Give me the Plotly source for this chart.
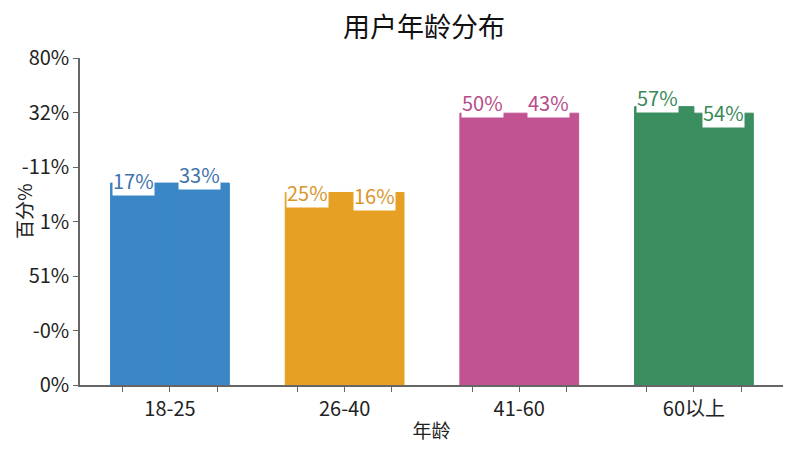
import plotly.graph_objects as go

# ---- data ----
categories = ["18-25", "26-40", "41-60", "60以上"]
left_values = [49.4, 47.1, 66.5, 68.1]
right_values = [49.4, 47.1, 66.5, 66.5]
left_labels = ["17%", "25%", "50%", "57%"]
right_labels = ["33%", "16%", "43%", "54%"]
y_tick_values = [0, 13.333, 26.667, 40, 53.333, 66.667, 80]
y_tick_text = ["0%", "-0%", "51%", "1%", "-11%", "32%", "80%"]

# ---- styles ----
bar_colors = ["#3a86c6", "#e6a023", "#c25392", "#3a8e60"]
text_colors = ["#3f74ad", "#d9962a", "#b64d88", "#3a8a5a"]
left_shift = [3, 0, 11, 9]
right_shift = [9, -3, 11, 1]
FONT = "Noto Sans CJK SC"
half = 0.34

xs = list(range(len(categories)))

fig = go.Figure()
fig.add_trace(go.Bar(
    x=[i - half / 2 for i in xs], y=left_values, width=half,
    marker=dict(color=bar_colors, line=dict(width=1, color=bar_colors)), showlegend=False,
    hoverinfo="skip"))
fig.add_trace(go.Bar(
    x=[i + half / 2 for i in xs], y=right_values, width=half,
    marker=dict(color=bar_colors, line=dict(width=1, color=bar_colors)), showlegend=False,
    hoverinfo="skip"))

for i in xs:
    fig.add_annotation(x=i - half, y=left_values[i], xref="x", yref="y",
                       text=left_labels[i], showarrow=False, xanchor="left",
                       yanchor="middle", xshift=1, yshift=left_shift[i],
                       bgcolor="white", borderpad=0,
                       font=dict(family=FONT, size=20, color=text_colors[i]))
    fig.add_annotation(x=i + half / 2, y=right_values[i], xref="x", yref="y",
                       text=right_labels[i], showarrow=False, xanchor="center",
                       yanchor="middle", yshift=right_shift[i],
                       bgcolor="white", borderpad=0,
                       font=dict(family=FONT, size=20, color=text_colors[i]))

# x ticks: center tick with label plus two side ticks per category
tickvals, ticktext = [], []
for i, c in enumerate(categories):
    tickvals += [i - 0.27, i, i + 0.27]
    ticktext += ["", c, ""]

fig.add_annotation(text="百分%", xref="paper", yref="paper", x=-0.081, y=0.532,
                   textangle=-90, showarrow=False, xanchor="center", yanchor="middle",
                   font=dict(family=FONT, size=19, color="#222"))

fig.update_layout(
    width=800, height=450,
    margin=dict(l=80, r=17, t=58, b=65, autoexpand=False),
    paper_bgcolor="white", plot_bgcolor="white",
    barmode="overlay",
    font=dict(family=FONT, color="#222"),
    title=dict(text="用户年龄分布", x=0.53, xanchor="center", y=0.938, yanchor="middle",
               font=dict(family=FONT, size=27, color="#111")),
    xaxis=dict(range=[-0.515, 3.51], tickvals=tickvals, ticktext=ticktext,
               automargin=False,
               showgrid=False, zeroline=False, showline=True, linecolor="#666",
               linewidth=1.5, ticks="outside", ticklen=5, tickcolor="#666",
               tickfont=dict(family=FONT, size=20, color="#222"),
               title=dict(text="年龄", font=dict(family=FONT, size=19, color="#222"),
                          standoff=4)),
    yaxis=dict(range=[0, 80], tickvals=y_tick_values, ticktext=y_tick_text,
               automargin=False,
               showgrid=False, zeroline=False, showline=True, linecolor="#666",
               linewidth=1.5, ticks="outside", ticklen=5, tickcolor="#666",
               tickfont=dict(family=FONT, size=20, color="#222")),
)

fig.write_html("out.html", config={"displayModeBar": False},
               post_script="document.body.style.margin='0';document.body.style.overflow='hidden';")
